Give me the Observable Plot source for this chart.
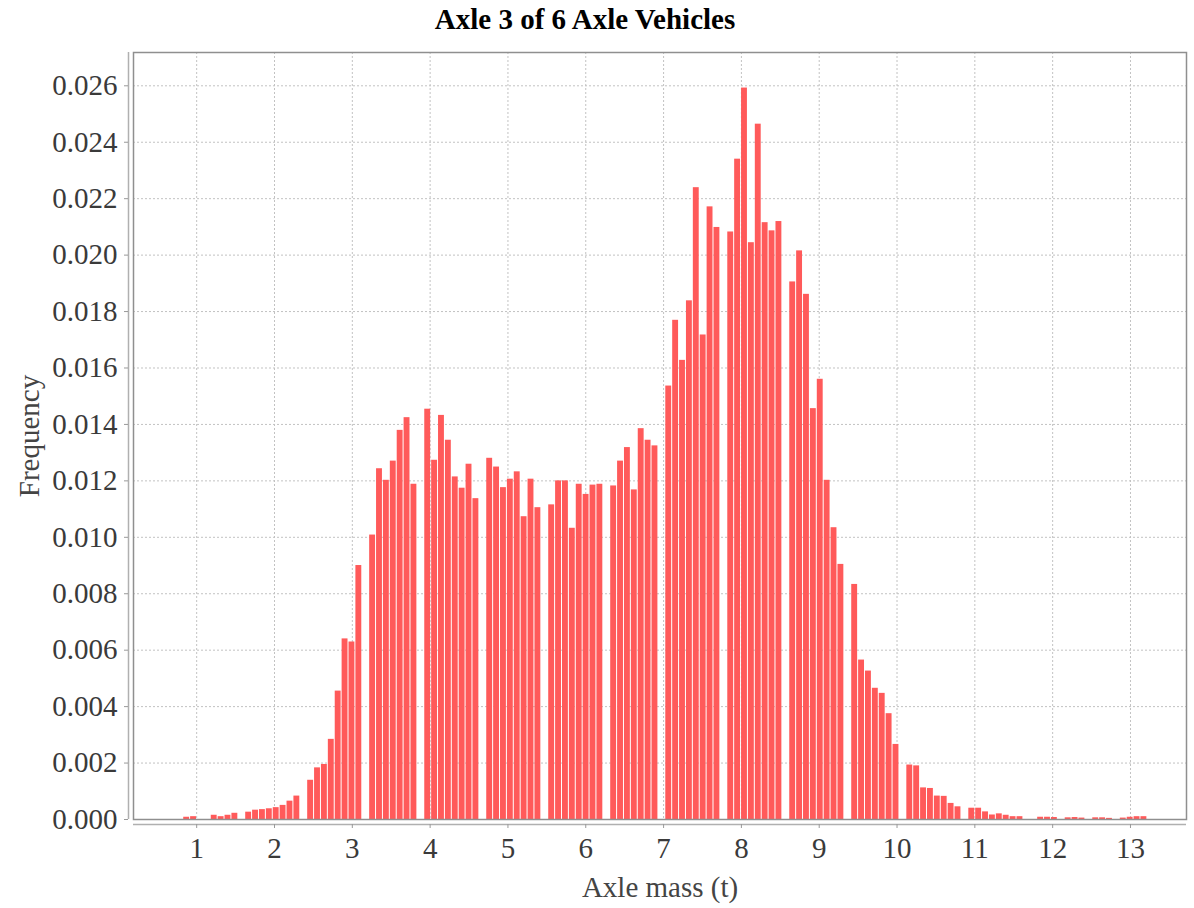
<!DOCTYPE html>
<html>
<head>
<meta charset="utf-8">
<script src="https://cdn.jsdelivr.net/npm/d3@7"></script>
<script src="https://cdn.jsdelivr.net/npm/@observablehq/plot@0.6"></script>
<style>
  html, body { margin: 0; padding: 0; background: #ffffff; }
  #title { position: relative; width: 1194px; height: 40px; }
  #title span { position: absolute; left: 0; top: 5px; width: 1170px; text-align: center;
    font-family: "Liberation Serif", "Times New Roman", serif; font-weight: bold; font-size: 29px;
    line-height: 1; color: #000; }
  #chart svg { display: block; }
</style>
</head>
<body>
<div id="title"><span>Axle 3 of 6 Axle Vehicles</span></div>
<div id="chart"></div>
<script>
const chartTitle = "Axle 3 of 6 Axle Vehicles";
const xLabel = "Axle mass (t)";
const yLabel = "Frequency";

// histogram bins (t): first bin start and bin width
const binStart = 0.827;
const binWidth = 0.0885;

// frequency of each consecutive bin
const frequency = [
  0.00008, 0.00010, 0, 0, 0.00015, 0.00010, 0.00015, 0.00022, 0,
  0.00026, 0.00033, 0.00035, 0.00038, 0.00042, 0.00050, 0.00065, 0.00083, 0,
  0.00139, 0.00183, 0.00195, 0.00284, 0.00455, 0.00640, 0.00629, 0.00900, 0,
  0.01008, 0.01243, 0.01202, 0.01270, 0.01379, 0.01424, 0.01188, 0,
  0.01454, 0.01273, 0.01432, 0.01344, 0.01214, 0.01174, 0.01259, 0.01137, 0,
  0.01280, 0.01249, 0.01176, 0.01206, 0.01232, 0.01073, 0.01206, 0.01105, 0,
  0.01115, 0.01200, 0.01200, 0.01032, 0.01188, 0.01152, 0.01185, 0.01188, 0,
  0.01182, 0.01270, 0.01318, 0.01168, 0.01385, 0.01344, 0.01324, 0,
  0.01536, 0.01769, 0.01627, 0.01838, 0.02239, 0.01717, 0.02171, 0.02098, 0,
  0.02082, 0.02340, 0.02592, 0.02044, 0.02464, 0.02115, 0.02086, 0.02119, 0,
  0.01905, 0.02015, 0.01861, 0.01456, 0.01560, 0.01202, 0.01034, 0.00904, 0,
  0.00833, 0.00565, 0.00526, 0.00465, 0.00447, 0.00375, 0.00266, 0,
  0.00193, 0.00190, 0.00112, 0.00110, 0.00083, 0.00082, 0.00057, 0.00045, 0,
  0.00040, 0.00040, 0.00027, 0.00016, 0.00020, 0.00015, 0.00010, 0.00010, 0,
  0, 0.00008, 0.00008, 0.00007, 0, 0.00006, 0.00007, 0.00005, 0,
  0.00006, 0.00006, 0.00004, 0, 0.00005, 0.00008, 0.00010, 0.00010
];

const xTicks = [1, 2, 3, 4, 5, 6, 7, 8, 9, 10, 11, 12, 13];
const yTicks = [0, 0.002, 0.004, 0.006, 0.008, 0.010, 0.012, 0.014, 0.016, 0.018, 0.020, 0.022, 0.024, 0.026];
const xDomain = [0.188, 13.72];
const yDomain = [0, 0.02718];

const bins = frequency.map((f, i) => ({
  x1: binStart + i * binWidth,
  x2: binStart + (i + 1) * binWidth,
  freq: f
})).filter(d => d.freq > 0);

const gridStyle = {stroke: "#c2c2c2", strokeOpacity: 1, strokeWidth: 1, strokeDasharray: "2,2"};

const chart = Plot.plot({
  width: 1194,
  height: 868,
  marginTop: 12,
  marginBottom: 89,
  marginLeft: 133,
  marginRight: 8,
  x: {domain: xDomain},
  y: {domain: yDomain},
  style: {fontFamily: "'Liberation Serif', 'Times New Roman', serif", fontSize: "29px", color: "#3a3a3a", background: "#fff"},
  marks: [
    Plot.gridX(xTicks, gridStyle),
    Plot.gridY(yTicks, gridStyle),
    Plot.rectY(bins, {x1: "x1", x2: "x2", y: "freq", fill: "#ff5a5a", insetLeft: 0.5, insetRight: 0.5}),
    Plot.frame({stroke: "#8f8f8f", strokeWidth: 1.5}),
    Plot.ruleX([xDomain[0]], {dx: -5, stroke: "#b0b0b0", strokeWidth: 1.5}),
    Plot.ruleY([0], {dy: 5, stroke: "#b0b0b0", strokeWidth: 1.5}),
    Plot.axisX(xTicks, {tickSize: 4, dy: 5, tickPadding: 9, tickFormat: d => String(d), stroke: "#999", fill: "#3a3a3a", label: null}),
    Plot.axisY(yTicks, {tickSize: 4, dx: -5, tickPadding: 7, tickFormat: d3.format(".3f"), stroke: "#999", fill: "#3a3a3a", label: null}),
    Plot.text([xLabel], {frameAnchor: "bottom", lineAnchor: "middle", textAnchor: "middle", dy: 68, fill: "#444", fontSize: 29}),
    Plot.text([yLabel], {frameAnchor: "left", lineAnchor: "middle", textAnchor: "middle", dx: -104, rotate: -90, fill: "#444", fontSize: 29})
  ]
});
document.getElementById("chart").appendChild(chart);
</script>
</body>
</html>
